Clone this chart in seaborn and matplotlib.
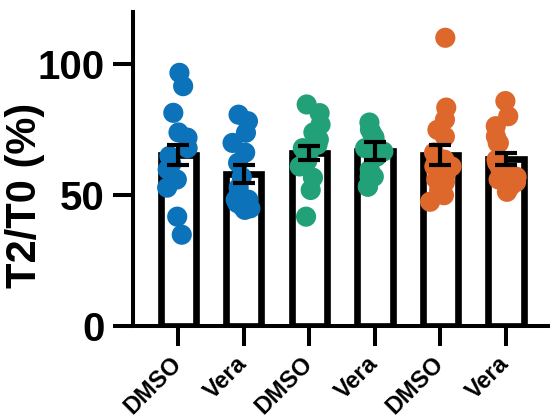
import numpy as np
import pandas as pd
import matplotlib
matplotlib.use("Agg")
import matplotlib.pyplot as plt
import matplotlib.transforms as mtransforms
import seaborn as sns

# ---- data ----
groups = ["g1", "g2", "g3", "g4", "g5", "g6"]
tick_labels = ["DMSO", "Vera", "DMSO", "Vera", "DMSO", "Vera"]
colors = ["#0C72BA", "#0C72BA", "#22A078", "#22A078", "#DE682C", "#DE682C"]

g1_vals = [96.8, 91.7, 81.5, 74, 72, 68, 65, 62, 59.8, 56, 52.9, 41.8, 34.9]
g2_vals = [80.8, 78.3, 73.9, 70, 66.3, 62.4, 57, 52.9, 48.3, 45.6, 48.3, 44.4, 45, 50, 47]
g3_vals = [84.7, 81.4, 77, 74, 71.3, 69.3, 64.8, 61, 56.7, 52, 41.8, 68, 63, 66]
g4_vals = [77.8, 75.1, 72.4, 66.7, 64.8, 59.8, 57.1, 57.1, 53.3, 53.3, 70, 68, 72, 74]
g5_vals = [110.2, 83.5, 78.9, 72.4, 75, 63.6, 63.6, 57, 56, 52, 47.5, 61, 61, 66.3, 55, 50, 58]
g6_vals = [86, 80.2, 76.4, 72.5, 70, 70, 63.6, 62.4, 57, 56, 57, 53.3, 51.3, 58, 60, 55]

means = [65.5, 58.2, 66.3, 66.9, 65.5, 64.0]
sems = [3.8, 3.5, 2.7, 3.6, 3.8, 2.3]

y_ticks = [0, 50, 100]
y_label = "T2/T0 (%)"

# ---- build tables ----
all_vals = [g1_vals, g2_vals, g3_vals, g4_vals, g5_vals, g6_vals]
points = pd.DataFrame({
    "group": [g for g, vals in zip(groups, all_vals) for _ in vals],
    "value": [v for vals in all_vals for v in vals],
})
summary = pd.DataFrame({"group": groups, "mean": means, "sem": sems})
palette = dict(zip(groups, colors))

plt.rcParams["font.family"] = ["Liberation Sans", "DejaVu Sans"]
plt.rcParams["font.weight"] = "bold"

fig = plt.figure(figsize=(5.51, 4.19), dpi=100)
ax = fig.add_axes([0.2414, 0.222, 0.753, 0.749])

sns.barplot(data=summary, x="group", y="mean", order=groups, color="white",
            edgecolor="black", linewidth=4.8, width=0.54, errorbar=None,
            saturation=1, ax=ax, zorder=1)

np.random.seed(3)
sns.stripplot(data=points, x="group", y="value", order=groups, hue="group",
              palette=palette, jitter=0.18, size=14.5, linewidth=0,
              legend=False, ax=ax, zorder=3)

ax.errorbar(x=np.arange(len(groups)), y=summary["mean"], yerr=summary["sem"],
            fmt="none", ecolor="black", elinewidth=3, capsize=8, capthick=3,
            zorder=5)

ax.set_xlim(-0.69, 5.64)
ax.set_ylim(0, 120)
ax.set_yticks(y_ticks)
ax.set_yticklabels([str(t) for t in y_ticks], fontsize=29, fontweight="bold")
ax.set_xticks(np.arange(len(groups)))
ax.set_xticklabels(tick_labels, fontsize=17, fontweight="bold", rotation=45,
                   ha="right", va="center", rotation_mode="anchor")
offset = mtransforms.ScaledTranslation(5 / 72, 0, fig.dpi_scale_trans)
for lab in ax.get_xticklabels():
    lab.set_transform(lab.get_transform() + offset)

ax.set_xlabel("")
ax.set_ylabel(y_label, fontsize=30, fontweight="bold")
ax.yaxis.set_label_coords(-0.212, 0.415)

for side in ["top", "right"]:
    ax.spines[side].set_visible(False)
for side in ["left", "bottom"]:
    ax.spines[side].set_linewidth(2.9)
    ax.spines[side].set_color("black")
ax.tick_params(axis="y", direction="out", length=14.5, width=2.9, pad=6, colors="black")
ax.tick_params(axis="x", direction="out", length=14.5, width=2.9, pad=10, colors="black")

fig.savefig("out.png", dpi=100)
